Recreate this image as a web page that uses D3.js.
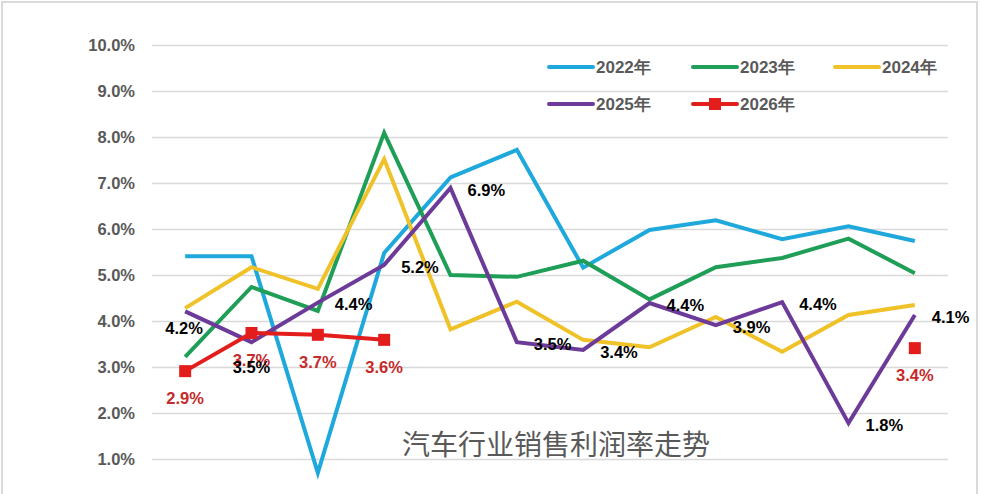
<!DOCTYPE html>
<html>
<head>
<meta charset="utf-8">
<script src="https://cdn.jsdelivr.net/npm/d3@7"></script>
<style>
  html, body { margin: 0; padding: 0; background: #fff; }
  svg { display: block; }
</style>
</head>
<body>
<svg id="chart" width="982" height="494"></svg>
<script>
// ---------- data ----------
const months = ["1月","2月","3月","4月","5月","6月","7月","8月","9月","10月","11月","12月"];
const seriesNames = ["2022年","2023年","2024年","2025年","2026年"];
const s2022 = [5.41, 5.41, 0.70, 5.48, 7.12, 7.72, 5.16, 5.98, 6.19, 5.78, 6.06, 5.74];
const s2023 = [3.22, 4.74, 4.22, 8.09, 5.00, 4.96, 5.31, 4.47, 5.17, 5.37, 5.79, 5.04];
const s2024 = [4.28, 5.17, 4.70, 7.52, 3.82, 4.42, 3.59, 3.43, 4.09, 3.33, 4.13, 4.35];
const s2025 = [4.21, 3.54, 4.40, 5.22, 6.89, 3.54, 3.37, 4.39, 3.91, 4.41, 1.78, 4.13];
const s2026 = [2.91, 3.74, 3.70, 3.59, null, null, null, null, null, null, null, 3.41];
const yTicks = [1,2,3,4,5,6,7,8,9,10];
const title = "汽车行业销售利润率走势";

// label placement (style, not data)
const purpleLabelPos = ["belowLeft","below","right","right","right","right","right","right","right","right","right","right"];

// ---------- layout / style ----------
const colors = ["#1fa8dc", "#1f9e57", "#f0c22a", "#6c3a98", "#e31c1c"];
const gray = "#595959";
const W = 982, H = 494;
const svg = d3.select("#chart");

// frame
svg.append("rect").attr("x", 2).attr("y", 2).attr("width", 975).attr("height", 500)
  .attr("fill", "#fff").attr("stroke", "#d9d9d9").attr("stroke-width", 2);

const x = d3.scalePoint().domain(months).range([152, 948]).padding(0.5);
const y = d3.scaleLinear().domain([0, 10]).range([505, 45]);

// y axis + gridlines
const yAxis = d3.axisLeft(y)
  .tickValues(yTicks)
  .tickFormat(d => d.toFixed(1) + "%")
  .tickSize(-(948 - 152))
  .tickPadding(17);
const gA = svg.append("g").attr("transform", "translate(152,0)").call(yAxis);
gA.select(".domain").remove();
gA.selectAll(".tick line").attr("stroke", "#d9d9d9").attr("stroke-width", 1.3);
gA.selectAll(".tick text")
  .attr("fill", gray)
  .style("font-family", "'Liberation Sans', Arial, sans-serif")
  .style("font-weight", "bold")
  .style("font-size", "16.5px");

// title
svg.append("text")
  .attr("x", 556).attr("y", 455)
  .attr("text-anchor", "middle")
  .attr("fill", gray)
  .style("font-family", "'Noto Sans CJK SC', sans-serif")
  .style("font-size", "28px")
  .text(title);

// lines
const allSeries = [s2022, s2023, s2024, s2025, s2026];
const line = d3.line()
  .defined(d => d != null)
  .x((d, i) => x(months[i]))
  .y(d => y(d));

allSeries.forEach((s, k) => {
  svg.append("path")
    .datum(s)
    .attr("fill", "none")
    .attr("stroke", colors[k])
    .attr("stroke-width", 4)
    .attr("stroke-linejoin", "miter")
    .attr("d", line);
});

// 2026 markers
svg.append("g").selectAll("rect")
  .data(s2026.map((v, i) => ({v, i})).filter(d => d.v != null))
  .join("rect")
  .attr("x", d => x(months[d.i]) - 6)
  .attr("y", d => y(d.v) - 6)
  .attr("width", 12).attr("height", 12)
  .attr("fill", colors[4]);

const labelFont = "'Liberation Sans', Arial, sans-serif";

// 2026 labels
svg.append("g").selectAll("text")
  .data(s2026.map((v, i) => ({v, i})).filter(d => d.v != null))
  .join("text")
  .attr("x", d => x(months[d.i]))
  .attr("y", d => y(d.v) + 27)
  .attr("dy", "0.35em")
  .attr("text-anchor", "middle")
  .attr("fill", "#c62a2a")
  .style("font-family", labelFont)
  .style("font-weight", "bold")
  .style("font-size", "16.5px")
  .text(d => d.v.toFixed(1) + "%");

// 2025 labels
svg.append("g").selectAll("text")
  .data(s2025.map((v, i) => ({v, i})))
  .join("text")
  .attr("x", d => {
    const px = x(months[d.i]);
    const p = purpleLabelPos[d.i];
    return p === "right" ? px + 17 : (p === "belowLeft" ? px - 1 : px);
  })
  .attr("y", d => {
    const py = y(d.v);
    const p = purpleLabelPos[d.i];
    return p === "right" ? py + 2 : (p === "belowLeft" ? py + 17 : py + 25);
  })
  .attr("dy", "0.35em")
  .attr("text-anchor", d => purpleLabelPos[d.i] === "right" ? "start" : "middle")
  .attr("fill", "#000")
  .style("font-family", labelFont)
  .style("font-weight", "bold")
  .style("font-size", "16.5px")
  .text(d => d.v.toFixed(1) + "%");

// legend
const legendPos = [[549, 67], [693, 67], [835, 67], [549, 104], [693, 104]];
const lg = svg.append("g");
seriesNames.forEach((name, k) => {
  const [lx, ly] = legendPos[k];
  const g = lg.append("g").attr("transform", `translate(${lx},${ly})`);
  g.append("line").attr("x1", 0).attr("x2", 44).attr("y1", 0).attr("y2", 0)
    .attr("stroke", colors[k]).attr("stroke-width", 4).attr("stroke-linecap", "round");
  if (k === 4) {
    g.append("rect").attr("x", 16).attr("y", -6).attr("width", 12).attr("height", 12).attr("fill", colors[k]);
  }
  g.append("text").attr("x", 47).attr("y", 0).attr("dy", "0.35em")
    .attr("fill", gray)
    .style("font-family", labelFont)
    .style("font-weight", "bold")
    .style("font-size", "17px")
    .text(name);
});
</script>
</body>
</html>
